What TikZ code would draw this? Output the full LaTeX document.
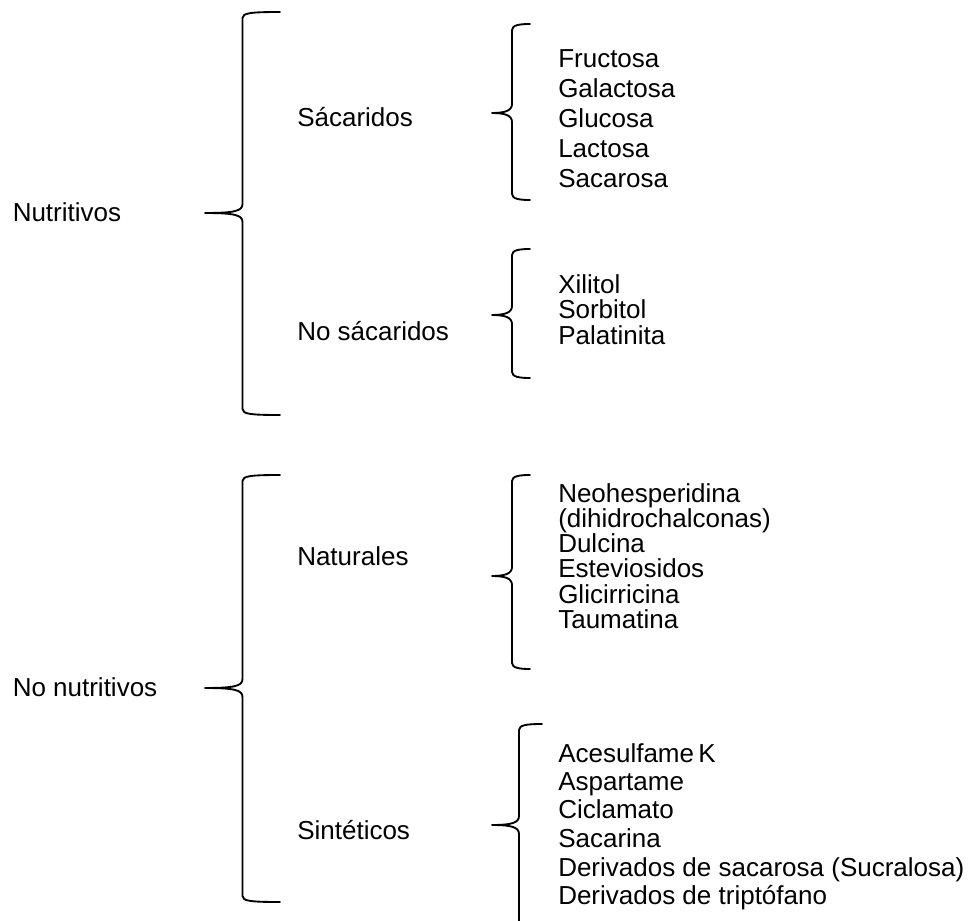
\documentclass[tikz,border=0pt]{standalone}
\usepackage{fontspec}
\setmainfont{Liberation Sans}
\newcommand{\mybrace}[6]{% #1 vertical x, #2 tip x, #3 end x, #4 top y, #5 tip y, #6 bottom y
  \draw[bracestyle] (#3,#4) .. controls ({#1+8},#4) and (#1,{#4+1}) .. (#1,{#4+6})
    -- (#1,{#5-9}) .. controls (#1,{#5-2}) and ({#1-8},#5) .. (#2,#5)
    .. controls ({#1-8},#5) and (#1,{#5+2}) .. (#1,{#5+9})
    -- (#1,{#6-6}) .. controls (#1,{#6-1}) and ({#1+8},#6) .. (#3,#6);}
\begin{document}
\begin{tikzpicture}[x=0.75pt,y=-0.75pt,
  lbl/.style={anchor=base west,inner sep=0pt,font=\fontsize{19.5}{23}\selectfont},
  bracestyle/.style={line width=1.4pt,line cap=round,line join=round}]
\useasboundingbox (0,0) rectangle (972,921);
\clip (0,0) rectangle (972,921);
% level 1
\node[lbl] (nut) at (12.5,221) {Nutritivos};
\node[lbl] (nonut) at (12.5,696) {No nutritivos};
% level 2
\node[lbl] (sac) at (297,126) {Sácaridos};
\node[lbl] (nosac) at (297,340) {No sácaridos};
\node[lbl] (nat) at (297,565) {Naturales};
\node[lbl] (sin) at (297,839) {Sintéticos};
% level 3
\node[lbl] (fru) at (558,67.5) {Fructosa};
\node[lbl] (gal) at (558,97.5) {Galactosa};
\node[lbl] (glu) at (558,127) {Glucosa};
\node[lbl] (lac) at (558,157) {Lactosa};
\node[lbl] (sacr) at (558,187) {Sacarosa};
\node[lbl] (xil) at (558,293) {Xilitol};
\node[lbl] (sor) at (558,318) {Sorbitol};
\node[lbl] (pal) at (558,344) {Palatinita};
\node[lbl] (neo) at (558,502) {Neohesperidina};
\node[lbl] (dih) at (558,527) {(dihidrochalconas)};
\node[lbl] (dul) at (558,552) {Dulcina};
\node[lbl] (est) at (558,577.5) {Esteviosidos};
\node[lbl] (gli) at (558,603) {Glicirricina};
\node[lbl] (tau) at (558,628) {Taumatina};
\node[lbl] (ace) at (558,762) {Acesulfame\,K};
\node[lbl] (asp) at (558,790) {Aspartame};
\node[lbl] (cic) at (558,818.5) {Ciclamato};
\node[lbl] (sca) at (558,847) {Sacarina};
\node[lbl] (dsa) at (558,876) {Derivados de sacarosa (Sucralosa)};
\node[lbl] (dtr) at (558,904) {Derivados de triptófano};
% braces
\mybrace{242.5}{205}{280}{12}{213}{415}
\mybrace{242.5}{205}{280}{475}{688}{902}
\mybrace{512}{492}{530}{24}{113}{200}
\mybrace{512}{492}{530}{249}{315}{378}
\mybrace{512}{492}{530}{475}{576}{669}
\mybrace{519}{492}{542}{724}{825}{960}
\end{tikzpicture}
\end{document}
